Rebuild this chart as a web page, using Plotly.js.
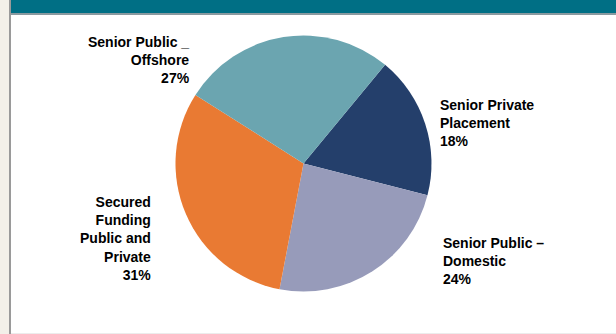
<!DOCTYPE html>
<html>
<head>
<meta charset="utf-8">
<script src="https://cdn.plot.ly/plotly-3.0.1.min.js"></script>
<style>
html,body{margin:0;padding:0;background:#fff;}
#chart{width:616px;height:334px;}
</style>
</head>
<body>
<div id="chart"></div>
<script>
// Data
const categories = ["Senior Private Placement", "Senior Public – Domestic", "Secured Funding Public and Private", "Senior Public _ Offshore"];
const values = [18, 24, 31, 27];
const labelLines = [
  ["Senior Private", "Placement"],
  ["Senior Public –", "Domestic"],
  ["Secured", "Funding", "Public and", "Private"],
  ["Senior Public _", "Offshore"]
];
const sliceColors = ["#243f6b", "#979bba", "#e97a33", "#6ba5b0"];

const W = 616, H = 334;
const px = x => x / W;
const py = y => 1 - y / H;

// pie geometry (pixels)
const cx = 303.5, cy = 163.5, r = 128;

// label placement (pixels) and alignment
const labelPos = [
  {x: 438, y: 95, anchor: "left"},
  {x: 441, y: 233, anchor: "left"},
  {x: 153, y: 192, anchor: "right"},
  {x: 192, y: 32, anchor: "right"}
];

const annotations = categories.map((c, i) => ({
  xref: "paper", yref: "paper",
  x: px(labelPos[i].x), y: py(labelPos[i].y),
  xanchor: labelPos[i].anchor, yanchor: "top",
  align: labelPos[i].anchor,
  showarrow: false,
  text: labelLines[i].map(s => "<b>" + s + "</b>").join("<br>") + "<br><b>" + values[i] + "%</b>",
  font: {family: "Liberation Sans, Arial, sans-serif", size: 14, color: "#000"}
}));

const trace = {
  type: "pie",
  labels: categories,
  values: values,
  sort: false,
  direction: "clockwise",
  rotation: 39.6,
  textinfo: "none",
  hoverinfo: "none",
  marker: {colors: sliceColors, line: {width: 0}},
  domain: {x: [px(cx - r), px(cx + r)], y: [py(cy + r), py(cy - r)]},
  showlegend: false
};

const layout = {
  width: W, height: H,
  margin: {l: 0, r: 0, t: 0, b: 0},
  paper_bgcolor: "#ffffff",
  showlegend: false,
  annotations: annotations,
  shapes: [
    {type: "rect", xref: "paper", yref: "paper", x0: 0, x1: px(9), y0: 0, y1: 1, fillcolor: "#f3f0e9", line: {width: 0}, layer: "below"},
    {type: "rect", xref: "paper", yref: "paper", x0: px(9), x1: px(11), y0: 0, y1: 1, fillcolor: "#9a9a9a", line: {width: 0}, layer: "below"},
    {type: "rect", xref: "paper", yref: "paper", x0: px(11), x1: 1, y0: py(13), y1: 1, fillcolor: "#006f85", line: {width: 0}, layer: "below"},
    {type: "rect", xref: "paper", yref: "paper", x0: px(11), x1: 1, y0: py(15), y1: py(13), fillcolor: "#8a9aa0", line: {width: 0}, layer: "below"},
    {type: "rect", xref: "paper", yref: "paper", x0: px(11), x1: 1, y0: 0, y1: py(333), fillcolor: "#ececec", line: {width: 0}, layer: "below"}
  ]
};

Plotly.newPlot("chart", [trace], layout, {displayModeBar: false, staticPlot: true});
</script>
</body>
</html>
